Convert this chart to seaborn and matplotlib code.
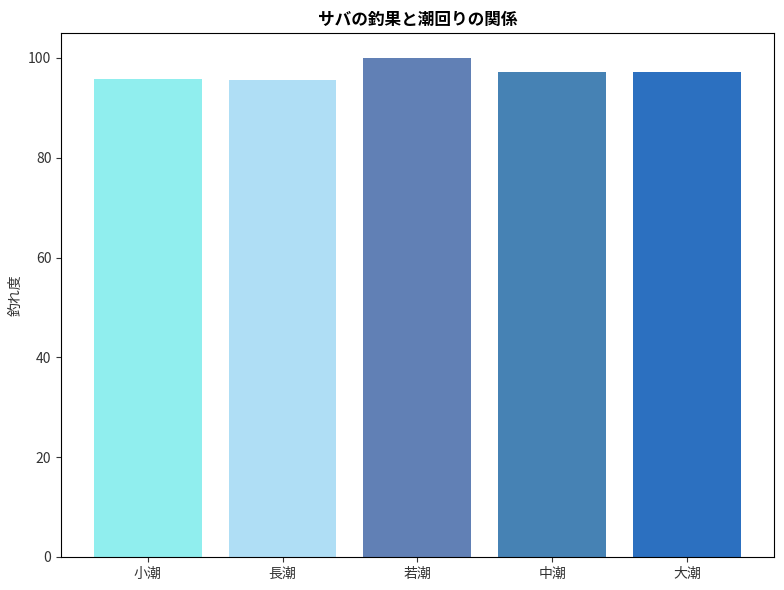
import matplotlib
matplotlib.use("Agg")
import matplotlib.pyplot as plt
import seaborn as sns
import pandas as pd

# data
tides = ["小潮", "長潮", "若潮", "中潮", "大潮"]
catch_score = [95.8, 95.6, 100.0, 97.2, 97.2]
bar_colors = ["#90EEEE", "#AFDEF5", "#6180B5", "#4682B4", "#2C70C0"]

sns.set_style("ticks")
plt.rcParams['font.family'] = ['Noto Sans CJK JP', 'DejaVu Sans']

df = pd.DataFrame({"tide": tides, "score": catch_score})

fig, ax = plt.subplots(figsize=(7.84, 5.9), dpi=100)
sns.barplot(data=df, x="tide", y="score", hue="tide", palette=bar_colors,
            width=0.8, saturation=1, linewidth=0, legend=False, ax=ax)

ax.set_xlim(-0.64, 4.64)
ax.set_ylim(0, 105)
ax.set_title("サバの釣果と潮回りの関係", fontweight="bold", fontsize=12, color="black")
ax.set_xlabel("")
ax.set_ylabel("釣れ度", color="#333333")
ax.tick_params(colors="#333333", labelcolor="#333333")
for s in ax.spines.values():
    s.set_visible(True)
    s.set_color("black")

fig.subplots_adjust(left=0.078, right=0.987, top=0.944, bottom=0.056)
plt.savefig("out.png", dpi=100)
